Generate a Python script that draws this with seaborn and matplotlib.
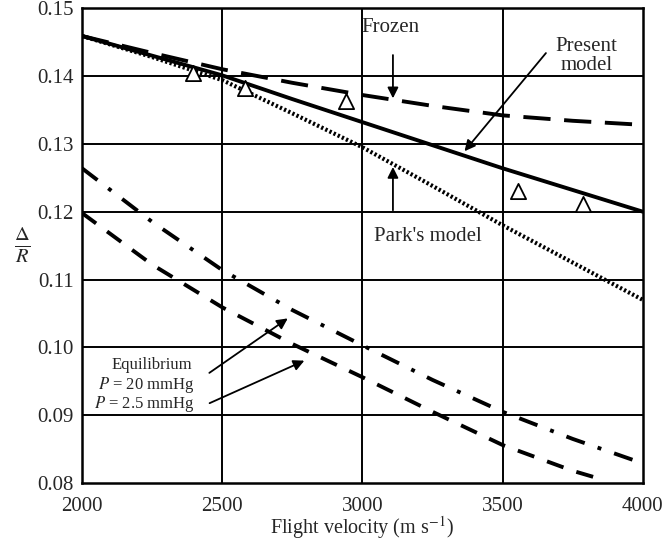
import numpy as np
import pandas as pd
import matplotlib
matplotlib.use("Agg")
import matplotlib.pyplot as plt
import seaborn as sns

# ---- data ----
frozen_x = [2000, 2250, 2500, 2750, 3000, 3250, 3500, 3750, 4000]
frozen_y = [0.1459, 0.1434, 0.1410, 0.1390, 0.1372, 0.1356, 0.1342, 0.1334, 0.1328]

present_x = [2000, 2250, 2500, 2750, 3000, 3250, 3500, 3750, 4000]
present_y = [0.1459, 0.1430, 0.1401, 0.1366, 0.1332, 0.1298, 0.1264, 0.1232, 0.1200]

park_x = [2000, 2250, 2500, 2750, 3000, 3250, 3500, 3750, 4000]
park_y = [0.1459, 0.1428, 0.1394, 0.1345, 0.1295, 0.1238, 0.1180, 0.1125, 0.1070]

eq20_x = [2000, 2250, 2500, 2750, 3000, 3250, 3500, 3750, 4000]
eq20_y = [0.1264, 0.1185, 0.1114, 0.1055, 0.1003, 0.0952, 0.0905, 0.0865, 0.0829]

eq25_x = [2000, 2250, 2500, 2750, 3000, 3250, 3500, 3750, 3840]
eq25_y = [0.1198, 0.1122, 0.1059, 0.1005, 0.0956, 0.0905, 0.0856, 0.0818, 0.0807]

tri_x = [2396, 2581, 2941, 3554, 3786]
tri_y = [0.1405, 0.1383, 0.1363, 0.1231, 0.1211]

x_ticks = [2000, 2500, 3000, 3500, 4000]
y_ticks = [0.08, 0.09, 0.10, 0.11, 0.12, 0.13, 0.14, 0.15]
y_tick_labels = ["0.08", "0.09", "0.10", "0.11", "0.12", "0.13", "0.14", "0.15"]

sns.set_theme(style="white")
plt.rcParams['font.family'] = ['Liberation Serif', 'DejaVu Serif']
plt.rcParams['mathtext.fontset'] = 'stix'

fig = plt.figure(figsize=(6.64, 5.46), dpi=100)
ax = fig.add_axes([0.1235, 0.1154, 0.8445, 0.8696])

# grid
for xv in x_ticks[1:-1]:
    ax.axvline(xv, color='black', lw=1.4, zorder=1)
for yv in y_ticks[1:-1]:
    ax.axhline(yv, color='black', lw=1.4, zorder=1)

lw = 2.8
sns.lineplot(x=frozen_x, y=frozen_y, ax=ax, color='black', lw=lw, zorder=3)
ax.lines[-1].set_dashes([7, 3.5])
sns.lineplot(x=present_x, y=present_y, ax=ax, color='black', lw=lw, zorder=3)
sns.lineplot(x=park_x, y=park_y, ax=ax, color='black', lw=3.0, zorder=3)
ax.lines[-1].set_dashes([0.55, 0.55])
sns.lineplot(x=eq20_x, y=eq20_y, ax=ax, color='black', lw=lw, zorder=3)
ax.lines[-1].set_dashes([5, 3.5, 1, 3.5])
sns.lineplot(x=eq25_x, y=eq25_y, ax=ax, color='black', lw=lw, zorder=3)
ax.lines[-1].set_dashes([4.5, 3.5])

sns.scatterplot(x=tri_x, y=tri_y, ax=ax, marker='^', s=120, facecolor='white',
                edgecolor='black', linewidth=1.3, zorder=4)

ax.set_xlim(2000, 4000)
ax.set_ylim(0.08, 0.15)
ax.set_xticks(x_ticks)
ax.set_yticks(y_ticks)
ax.set_yticklabels(y_tick_labels)
ax.tick_params(labelsize=15, length=0)
ax.tick_params(axis='x', pad=10)
ax.tick_params(axis='y', pad=6)
for s in ax.spines.values():
    s.set_color('black')
    s.set_linewidth(1.8)

ax.set_xlabel("Flight velocity (m s$^{-1}$)", fontsize=14.5, labelpad=-1)
ax.set_ylabel(r"$\frac{\Delta}{R}$", fontsize=21, rotation=0, labelpad=11, va='center')

arrow = dict(arrowstyle='-|>', color='black', lw=1.3, mutation_scale=16)

ax.text(3100, 0.1472, "Frozen", fontsize=15, ha='center', va='center')
ax.annotate("", xy=(3109, 0.1363), xytext=(3109, 0.1435), arrowprops=arrow)

ax.text(3800, 0.1430, "Present\nmodel", fontsize=15, ha='center', va='center', linespacing=1.0)
ax.annotate("", xy=(3358, 0.1286), xytext=(3661, 0.1437), arrowprops=arrow)

ax.text(3234, 0.1164, "Park's model", fontsize=15, ha='center', va='center')
ax.annotate("", xy=(3109, 0.1270), xytext=(3109, 0.1198), arrowprops=arrow)

ax.text(2250, 0.0974, "Equilibrium", fontsize=12, ha='center', va='center')
ax.text(2400, 0.0945, "$P$ = 20 mmHg", fontsize=12, ha='right', va='center')
ax.text(2400, 0.0917, "$P$ = 2.5 mmHg", fontsize=12, ha='right', va='center')
ax.annotate("", xy=(2742, 0.1045), xytext=(2446, 0.0960), arrowprops=arrow)
ax.annotate("", xy=(2802, 0.0982), xytext=(2446, 0.0916), arrowprops=arrow)

fig.savefig("out.png", dpi=100)
